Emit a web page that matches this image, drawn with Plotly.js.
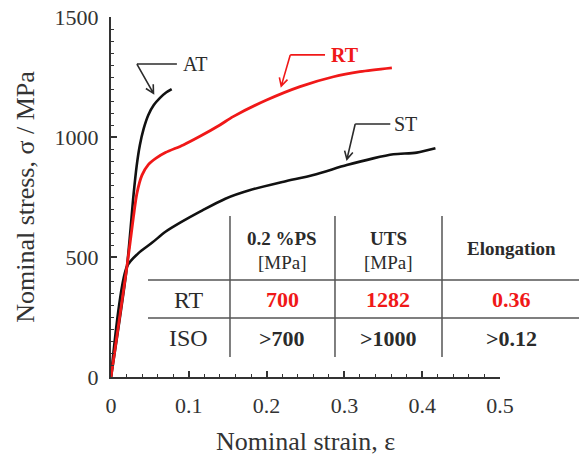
<!DOCTYPE html>
<html>
<head>
<meta charset="utf-8">
<script src="https://cdn.plot.ly/plotly-3.0.1.min.js"></script>
<style>
  #chart text, #chart tspan { font-family: 'Liberation Serif', Tinos, serif !important; }
</style>
</head>
<body style="margin:0">
<div id="chart"></div>
<script>
// ---- Data ----
const atStrain = [0, 0.0205, 0.029, 0.033, 0.037, 0.042, 0.048, 0.055, 0.063, 0.070, 0.078];
const atStress = [0, 460, 760, 880, 965, 1035, 1092, 1133, 1163, 1183, 1199];

const rtStrain = [0, 0.0205, 0.0289, 0.0333, 0.0397, 0.048, 0.058, 0.07, 0.093, 0.115, 0.14, 0.157, 0.2, 0.243, 0.286, 0.32, 0.361];
const rtStress = [0, 460, 668, 765, 840, 885, 912, 935, 967, 1004, 1050, 1085, 1154, 1210, 1251, 1272, 1288];

const stStrain = [0, 0.0205, 0.035, 0.053, 0.070, 0.090, 0.115, 0.147, 0.179, 0.222, 0.26, 0.303, 0.337, 0.363, 0.393, 0.417];
const stStress = [0, 460, 515, 560, 605, 645, 690, 743, 779, 814, 842, 883, 911, 928, 935, 953];

const tableCols  = ['0.2 %PS', 'UTS', 'Elongation'];
const tableUnits = ['[MPa]', '[MPa]', ''];
const rowLabels  = ['RT', 'ISO'];
const rtValues   = ['700', '1282', '0.36'];
const isoValues  = ['>700', '>1000', '>0.12'];

const xTicks = [0, 0.1, 0.2, 0.3, 0.4, 0.5];
const yTicks = [0, 500, 1000, 1500];

// ---- Styling ----
const FONT = 'Liberation Serif';
const INK = '#2b2b2b';
const RED = '#f01818';
const W = 579, H = 456, M = { l: 111, r: 79, t: 17, b: 79 };
const X_RANGE = [0, 0.5], Y_RANGE = [0, 1500];
const sx = (W - M.l - M.r) / (X_RANGE[1] - X_RANGE[0]);   // px per strain unit
const sy = (H - M.t - M.b) / (Y_RANGE[1] - Y_RANGE[0]);   // px per MPa

const lineStyle = (c, w) => ({ color: c, width: w, shape: 'spline', smoothing: 0.8 });
const traces = [
  { x: atStrain, y: atStress, mode: 'lines', line: lineStyle('#111', 2.6), hoverinfo: 'skip' },
  { x: stStrain, y: stStress, mode: 'lines', line: lineStyle('#111', 2.6), hoverinfo: 'skip' },
  { x: rtStrain, y: rtStress, mode: 'lines', line: lineStyle(RED, 2.8), hoverinfo: 'skip' }
];

// curve labels with bent pointers (data coordinates)
const labels = [
  { text: 'AT', corner: [0.0333, 1304], end: [0.0847, 1304], tx: 0.108, head: [0.0546, 1182], color: INK, bold: false },
  { text: 'RT', corner: [0.2304, 1342], end: [0.2751, 1342], tx: 0.301, head: [0.2188, 1212], color: RED, bold: true },
  { text: 'ST', corner: [0.3139, 1054], end: [0.3590, 1054], tx: 0.378, head: [0.3032, 907], color: INK, bold: false }
];

const shapes = [];
const annotations = [];

function arrowPath(c, h) {
  const vx = (c[0] - h[0]) * sx, vy = -(c[1] - h[1]) * sy;
  const len = Math.hypot(vx, vy), ux = vx / len, uy = vy / len;
  const L = 9, a = 28 * Math.PI / 180;
  const barb = s => {
    const bx = (ux * Math.cos(s * a) - uy * Math.sin(s * a)) * L;
    const by = (ux * Math.sin(s * a) + uy * Math.cos(s * a)) * L;
    return [h[0] + bx / sx, h[1] - by / sy];
  };
  const b1 = barb(1), b2 = barb(-1);
  return `M${c[0]},${c[1]} L${h[0]},${h[1]} M${b1[0]},${b1[1]} L${h[0]},${h[1]} L${b2[0]},${b2[1]}`;
}

labels.forEach(l => {
  shapes.push({ type: 'line', xref: 'x', yref: 'y', x0: l.corner[0], y0: l.corner[1], x1: l.end[0], y1: l.end[1],
    line: { color: l.color, width: 1.6 } });
  shapes.push({ type: 'path', xref: 'x', yref: 'y', path: arrowPath(l.corner, l.head),
    line: { color: l.color, width: 1.6 } });
  annotations.push({ xref: 'x', yref: 'y', x: l.tx, y: l.corner[1], text: l.bold ? '<b>' + l.text + '</b>' : l.text,
    showarrow: false, font: { family: FONT, size: 20, color: l.color }, xanchor: 'center', yanchor: 'middle' });
});

// ---- Table (paper coordinates) ----
const tl = { color: '#555', width: 1.5 };
const colX = [0.3059, 0.5758, 0.8509];
colX.forEach(cx => shapes.push({ type: 'line', xref: 'paper', yref: 'paper', x0: cx, x1: cx, y0: 0.0556, y1: 0.4472, line: tl }));
[0.2694, 0.1639].forEach(cy => shapes.push({ type: 'line', xref: 'paper', yref: 'paper', x0: 0.0951, x1: 1.2031, y0: cy, y1: cy, line: tl }));

const colCenters = [0.4396, 0.7121, 1.0283];
const labelCenter = 0.2005;
const pa = (x, y, text, size, color) => annotations.push({ xref: 'paper', yref: 'paper', x: x, y: y, text: text,
  showarrow: false, xanchor: 'center', yanchor: 'middle', font: { family: FONT, size: size, color: color } });

tableCols.forEach((c, i) => {
  if (tableUnits[i]) {
    pa(colCenters[i], 0.3861, '<b>' + c + '</b>', 19, INK);
    pa(colCenters[i], 0.3194, tableUnits[i], 19, INK);
  } else {
    pa(colCenters[i], 0.3556, '<b>' + c + '</b>', 19, INK);
  }
});
pa(labelCenter, 0.2139, rowLabels[0], 24, INK);
pa(labelCenter, 0.1083, rowLabels[1], 24, INK);
rtValues.forEach((v, i) => pa(colCenters[i], 0.2139, '<b>' + v + '</b>', 22, RED));
isoValues.forEach((v, i) => pa(colCenters[i], 0.1083, '<b>' + v + '</b>', 22, INK));

const layout = {
  width: W, height: H,
  margin: M,
  showlegend: false,
  font: { family: FONT },
  xaxis: {
    range: X_RANGE, tickvals: xTicks, ticktext: xTicks.map(String),
    showline: true, linecolor: '#333', linewidth: 2,
    ticks: 'inside', ticklen: 6, tickwidth: 1.5, tickcolor: '#333',
    minor: { ticks: 'inside', ticklen: 3, dtick: 0.02, tickcolor: '#333', tickwidth: 1 },
    showgrid: false, zeroline: false,
    tickfont: { family: FONT, size: 22, color: '#333' },
    ticklabelstandoff: 8,
    title: { text: 'Nominal strain, ε', font: { family: FONT, size: 26, color: '#333' }, standoff: 14 },
    automargin: false
  },
  yaxis: {
    range: Y_RANGE, tickvals: yTicks, ticktext: yTicks.map(String),
    showline: true, linecolor: '#333', linewidth: 2,
    ticks: 'inside', ticklen: 6, tickwidth: 1.5, tickcolor: '#333',
    minor: { ticks: 'inside', ticklen: 3, dtick: 50, tickcolor: '#333', tickwidth: 1 },
    showgrid: false, zeroline: false,
    tickfont: { family: FONT, size: 22, color: '#333' },
    ticklabelstandoff: 6,
    title: { text: 'Nominal stress, σ / MPa', font: { family: FONT, size: 26, color: '#333' }, standoff: 12 },
    automargin: false
  },
  shapes: shapes,
  annotations: annotations
};

Plotly.newPlot('chart', traces, layout, { displayModeBar: false });
</script>
</body>
</html>
